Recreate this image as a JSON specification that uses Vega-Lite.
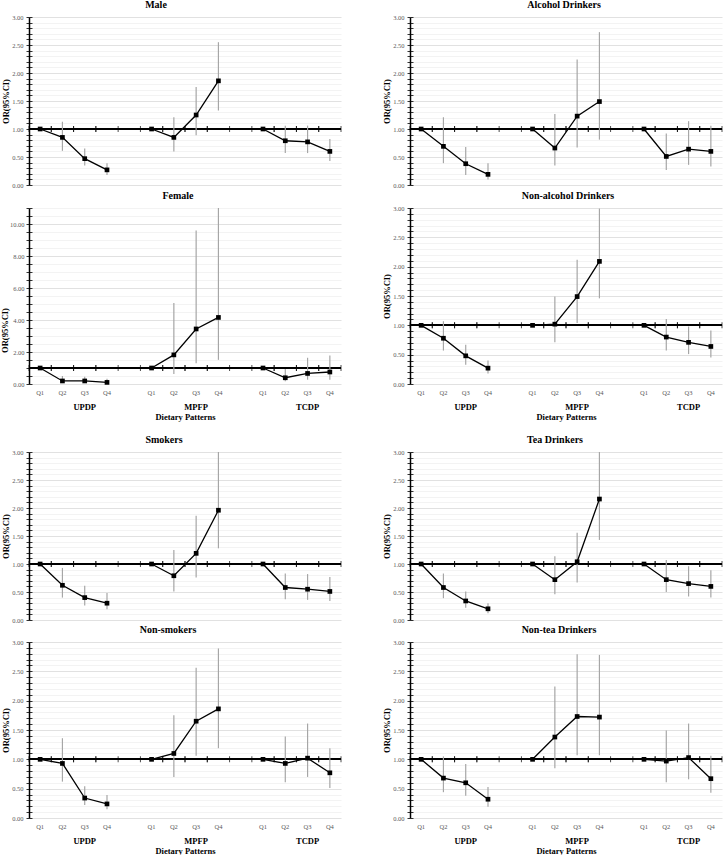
{
"$schema":"https://vega.github.io/schema/vega-lite/v6.json",
"background":"white",
"padding":{"left":0,"top":0,"right":0,"bottom":0},
"config":{"view":{"stroke":null},
 "title":{"font":"Liberation Serif","fontSize":10,"fontWeight":"bold","color":"black","offset":0,"frame":"group","anchor":"middle"},
 "axis":{"labelFont":"Liberation Serif","titleFont":"Liberation Serif","labelFontSize":6.5,"labelColor":"#595959","titleFontSize":8.5,"titleFontWeight":"bold","titleColor":"black","tickColor":"black","domainColor":"black","labelOverlap":false}},
"datasets":{"or":[
{"panel":"Male","pattern":"UPDP","slot":"UPDP Q1","or":1},
{"panel":"Male","pattern":"UPDP","slot":"UPDP Q2","or":0.85,"lo":0.61,"hi":1.13},
{"panel":"Male","pattern":"UPDP","slot":"UPDP Q3","or":0.47,"lo":0.35,"hi":0.65},
{"panel":"Male","pattern":"UPDP","slot":"UPDP Q4","or":0.27,"lo":0.18,"hi":0.39},
{"panel":"Male","pattern":"MPFP","slot":"MPFP Q1","or":1},
{"panel":"Male","pattern":"MPFP","slot":"MPFP Q2","or":0.85,"lo":0.60,"hi":1.21},
{"panel":"Male","pattern":"MPFP","slot":"MPFP Q3","or":1.25,"lo":0.89,"hi":1.75},
{"panel":"Male","pattern":"MPFP","slot":"MPFP Q4","or":1.86,"lo":1.33,"hi":2.55},
{"panel":"Male","pattern":"TCDP","slot":"TCDP Q1","or":1},
{"panel":"Male","pattern":"TCDP","slot":"TCDP Q2","or":0.79,"lo":0.57,"hi":1.06},
{"panel":"Male","pattern":"TCDP","slot":"TCDP Q3","or":0.77,"lo":0.57,"hi":1.06},
{"panel":"Male","pattern":"TCDP","slot":"TCDP Q4","or":0.60,"lo":0.43,"hi":0.82},
{"panel":"Female","pattern":"UPDP","slot":"UPDP Q1","or":1},
{"panel":"Female","pattern":"UPDP","slot":"UPDP Q2","or":0.19,"lo":0.06,"hi":0.50},
{"panel":"Female","pattern":"UPDP","slot":"UPDP Q3","or":0.19,"lo":0.07,"hi":0.45},
{"panel":"Female","pattern":"UPDP","slot":"UPDP Q4","or":0.10,"lo":0.03,"hi":0.33},
{"panel":"Female","pattern":"MPFP","slot":"MPFP Q1","or":1},
{"panel":"Female","pattern":"MPFP","slot":"MPFP Q2","or":1.82,"lo":0.62,"hi":5.07},
{"panel":"Female","pattern":"MPFP","slot":"MPFP Q3","or":3.44,"lo":1.30,"hi":9.59},
{"panel":"Female","pattern":"MPFP","slot":"MPFP Q4","or":4.16,"lo":1.51,"hi":11.0},
{"panel":"Female","pattern":"TCDP","slot":"TCDP Q1","or":1},
{"panel":"Female","pattern":"TCDP","slot":"TCDP Q2","or":0.39,"lo":0.17,"hi":0.93},
{"panel":"Female","pattern":"TCDP","slot":"TCDP Q3","or":0.66,"lo":0.27,"hi":1.64},
{"panel":"Female","pattern":"TCDP","slot":"TCDP Q4","or":0.75,"lo":0.27,"hi":1.78},
{"panel":"Alcohol Drinkers","pattern":"UPDP","slot":"UPDP Q1","or":1},
{"panel":"Alcohol Drinkers","pattern":"UPDP","slot":"UPDP Q2","or":0.69,"lo":0.39,"hi":1.21},
{"panel":"Alcohol Drinkers","pattern":"UPDP","slot":"UPDP Q3","or":0.38,"lo":0.18,"hi":0.68},
{"panel":"Alcohol Drinkers","pattern":"UPDP","slot":"UPDP Q4","or":0.19,"lo":0.10,"hi":0.39},
{"panel":"Alcohol Drinkers","pattern":"MPFP","slot":"MPFP Q1","or":1},
{"panel":"Alcohol Drinkers","pattern":"MPFP","slot":"MPFP Q2","or":0.66,"lo":0.35,"hi":1.27},
{"panel":"Alcohol Drinkers","pattern":"MPFP","slot":"MPFP Q3","or":1.23,"lo":0.67,"hi":2.24},
{"panel":"Alcohol Drinkers","pattern":"MPFP","slot":"MPFP Q4","or":1.49,"lo":0.81,"hi":2.73},
{"panel":"Alcohol Drinkers","pattern":"TCDP","slot":"TCDP Q1","or":1},
{"panel":"Alcohol Drinkers","pattern":"TCDP","slot":"TCDP Q2","or":0.51,"lo":0.27,"hi":0.92},
{"panel":"Alcohol Drinkers","pattern":"TCDP","slot":"TCDP Q3","or":0.64,"lo":0.36,"hi":1.14},
{"panel":"Alcohol Drinkers","pattern":"TCDP","slot":"TCDP Q4","or":0.60,"lo":0.33,"hi":1.06},
{"panel":"Non-alcohol Drinkers","pattern":"UPDP","slot":"UPDP Q1","or":1},
{"panel":"Non-alcohol Drinkers","pattern":"UPDP","slot":"UPDP Q2","or":0.78,"lo":0.57,"hi":1.07},
{"panel":"Non-alcohol Drinkers","pattern":"UPDP","slot":"UPDP Q3","or":0.48,"lo":0.33,"hi":0.67},
{"panel":"Non-alcohol Drinkers","pattern":"UPDP","slot":"UPDP Q4","or":0.27,"lo":0.18,"hi":0.40},
{"panel":"Non-alcohol Drinkers","pattern":"MPFP","slot":"MPFP Q1","or":1},
{"panel":"Non-alcohol Drinkers","pattern":"MPFP","slot":"MPFP Q2","or":1.02,"lo":0.71,"hi":1.49},
{"panel":"Non-alcohol Drinkers","pattern":"MPFP","slot":"MPFP Q3","or":1.49,"lo":1.04,"hi":2.12},
{"panel":"Non-alcohol Drinkers","pattern":"MPFP","slot":"MPFP Q4","or":2.09,"lo":1.46,"hi":2.99},
{"panel":"Non-alcohol Drinkers","pattern":"TCDP","slot":"TCDP Q1","or":1},
{"panel":"Non-alcohol Drinkers","pattern":"TCDP","slot":"TCDP Q2","or":0.80,"lo":0.57,"hi":1.11},
{"panel":"Non-alcohol Drinkers","pattern":"TCDP","slot":"TCDP Q3","or":0.71,"lo":0.51,"hi":0.98},
{"panel":"Non-alcohol Drinkers","pattern":"TCDP","slot":"TCDP Q4","or":0.64,"lo":0.45,"hi":0.91},
{"panel":"Smokers","pattern":"UPDP","slot":"UPDP Q1","or":1},
{"panel":"Smokers","pattern":"UPDP","slot":"UPDP Q2","or":0.62,"lo":0.40,"hi":0.93},
{"panel":"Smokers","pattern":"UPDP","slot":"UPDP Q3","or":0.40,"lo":0.26,"hi":0.61},
{"panel":"Smokers","pattern":"UPDP","slot":"UPDP Q4","or":0.30,"lo":0.19,"hi":0.48},
{"panel":"Smokers","pattern":"MPFP","slot":"MPFP Q1","or":1},
{"panel":"Smokers","pattern":"MPFP","slot":"MPFP Q2","or":0.79,"lo":0.51,"hi":1.25},
{"panel":"Smokers","pattern":"MPFP","slot":"MPFP Q3","or":1.19,"lo":0.76,"hi":1.86},
{"panel":"Smokers","pattern":"MPFP","slot":"MPFP Q4","or":1.96,"lo":1.28,"hi":3.00},
{"panel":"Smokers","pattern":"TCDP","slot":"TCDP Q1","or":1},
{"panel":"Smokers","pattern":"TCDP","slot":"TCDP Q2","or":0.58,"lo":0.37,"hi":0.83},
{"panel":"Smokers","pattern":"TCDP","slot":"TCDP Q3","or":0.55,"lo":0.36,"hi":0.82},
{"panel":"Smokers","pattern":"TCDP","slot":"TCDP Q4","or":0.51,"lo":0.34,"hi":0.77},
{"panel":"Tea Drinkers","pattern":"UPDP","slot":"UPDP Q1","or":1},
{"panel":"Tea Drinkers","pattern":"UPDP","slot":"UPDP Q2","or":0.58,"lo":0.39,"hi":0.83},
{"panel":"Tea Drinkers","pattern":"UPDP","slot":"UPDP Q3","or":0.34,"lo":0.22,"hi":0.51},
{"panel":"Tea Drinkers","pattern":"UPDP","slot":"UPDP Q4","or":0.20,"lo":0.12,"hi":0.30},
{"panel":"Tea Drinkers","pattern":"MPFP","slot":"MPFP Q1","or":1},
{"panel":"Tea Drinkers","pattern":"MPFP","slot":"MPFP Q2","or":0.72,"lo":0.46,"hi":1.14},
{"panel":"Tea Drinkers","pattern":"MPFP","slot":"MPFP Q3","or":1.04,"lo":0.67,"hi":1.56},
{"panel":"Tea Drinkers","pattern":"MPFP","slot":"MPFP Q4","or":2.16,"lo":1.43,"hi":3.00},
{"panel":"Tea Drinkers","pattern":"TCDP","slot":"TCDP Q1","or":1},
{"panel":"Tea Drinkers","pattern":"TCDP","slot":"TCDP Q2","or":0.72,"lo":0.50,"hi":1.07},
{"panel":"Tea Drinkers","pattern":"TCDP","slot":"TCDP Q3","or":0.65,"lo":0.42,"hi":0.96},
{"panel":"Tea Drinkers","pattern":"TCDP","slot":"TCDP Q4","or":0.60,"lo":0.40,"hi":0.89},
{"panel":"Non-smokers","pattern":"UPDP","slot":"UPDP Q1","or":1},
{"panel":"Non-smokers","pattern":"UPDP","slot":"UPDP Q2","or":0.93,"lo":0.62,"hi":1.36},
{"panel":"Non-smokers","pattern":"UPDP","slot":"UPDP Q3","or":0.34,"lo":0.22,"hi":0.54},
{"panel":"Non-smokers","pattern":"UPDP","slot":"UPDP Q4","or":0.24,"lo":0.15,"hi":0.39},
{"panel":"Non-smokers","pattern":"MPFP","slot":"MPFP Q1","or":1},
{"panel":"Non-smokers","pattern":"MPFP","slot":"MPFP Q2","or":1.10,"lo":0.70,"hi":1.75},
{"panel":"Non-smokers","pattern":"MPFP","slot":"MPFP Q3","or":1.65,"lo":1.06,"hi":2.56},
{"panel":"Non-smokers","pattern":"MPFP","slot":"MPFP Q4","or":1.86,"lo":1.19,"hi":2.89},
{"panel":"Non-smokers","pattern":"TCDP","slot":"TCDP Q1","or":1},
{"panel":"Non-smokers","pattern":"TCDP","slot":"TCDP Q2","or":0.93,"lo":0.61,"hi":1.39},
{"panel":"Non-smokers","pattern":"TCDP","slot":"TCDP Q3","or":1.02,"lo":0.70,"hi":1.61},
{"panel":"Non-smokers","pattern":"TCDP","slot":"TCDP Q4","or":0.77,"lo":0.51,"hi":1.19},
{"panel":"Non-tea Drinkers","pattern":"UPDP","slot":"UPDP Q1","or":1},
{"panel":"Non-tea Drinkers","pattern":"UPDP","slot":"UPDP Q2","or":0.68,"lo":0.44,"hi":1.05},
{"panel":"Non-tea Drinkers","pattern":"UPDP","slot":"UPDP Q3","or":0.60,"lo":0.38,"hi":0.92},
{"panel":"Non-tea Drinkers","pattern":"UPDP","slot":"UPDP Q4","or":0.32,"lo":0.19,"hi":0.53},
{"panel":"Non-tea Drinkers","pattern":"MPFP","slot":"MPFP Q1","or":1},
{"panel":"Non-tea Drinkers","pattern":"MPFP","slot":"MPFP Q2","or":1.38,"lo":0.85,"hi":2.24},
{"panel":"Non-tea Drinkers","pattern":"MPFP","slot":"MPFP Q3","or":1.73,"lo":1.07,"hi":2.79},
{"panel":"Non-tea Drinkers","pattern":"MPFP","slot":"MPFP Q4","or":1.72,"lo":1.07,"hi":2.78},
{"panel":"Non-tea Drinkers","pattern":"TCDP","slot":"TCDP Q1","or":1},
{"panel":"Non-tea Drinkers","pattern":"TCDP","slot":"TCDP Q2","or":0.97,"lo":0.61,"hi":1.49},
{"panel":"Non-tea Drinkers","pattern":"TCDP","slot":"TCDP Q3","or":1.03,"lo":0.66,"hi":1.61},
{"panel":"Non-tea Drinkers","pattern":"TCDP","slot":"TCDP Q4","or":0.67,"lo":0.43,"hi":1.06}
]},
"spacing":40,
"hconcat":[
{"spacing":14,"vconcat":[
 {"spacing":2,"vconcat":[
  {"width":312,"height":168,"title":{"text":"Male","dx":-29},"data":{"name":"or"},"transform":[{"filter":"datum.panel === 'Male'"}],
   "resolve":{"axis":{"x":"independent","y":"independent"}},
   "layer":[
    {"mark":{"type":"rule","color":"black","strokeWidth":1.5},"encoding":{"y":{"datum":1,"type":"quantitative","scale":{"domain":[0,3],"nice":false},"axis":null}}},
    {"mark":{"type":"tick","orient":"vertical","color":"black","size":6,"thickness":1},"encoding":{"x":{"field":"slot","type":"ordinal","bandPosition":0,"scale":{"type":"band","domain":["UPDP Q1","UPDP Q2","UPDP Q3","UPDP Q4","gap1","MPFP Q1","MPFP Q2","MPFP Q3","MPFP Q4","gap2","TCDP Q1","TCDP Q2","TCDP Q3","TCDP Q4"],"paddingInner":0,"paddingOuter":0},"axis":null},"y":{"datum":1,"type":"quantitative","scale":{"domain":[0,3],"nice":false},"axis":null}}},
    {"mark":{"type":"tick","orient":"vertical","color":"black","size":6,"thickness":1},"encoding":{"x":{"field":"slot","type":"ordinal","bandPosition":1,"scale":{"type":"band","domain":["UPDP Q1","UPDP Q2","UPDP Q3","UPDP Q4","gap1","MPFP Q1","MPFP Q2","MPFP Q3","MPFP Q4","gap2","TCDP Q1","TCDP Q2","TCDP Q3","TCDP Q4"],"paddingInner":0,"paddingOuter":0},"axis":null},"y":{"datum":1,"type":"quantitative","scale":{"domain":[0,3],"nice":false},"axis":null}}},
    {"mark":{"type":"rule","color":"#a6a6a6","strokeWidth":1.2},"encoding":{"x":{"field":"slot","type":"ordinal","scale":{"type":"band","domain":["UPDP Q1","UPDP Q2","UPDP Q3","UPDP Q4","gap1","MPFP Q1","MPFP Q2","MPFP Q3","MPFP Q4","gap2","TCDP Q1","TCDP Q2","TCDP Q3","TCDP Q4"],"paddingInner":0,"paddingOuter":0},"axis":null},"y":{"field":"lo","type":"quantitative","scale":{"domain":[0,3],"nice":false},"axis":{"orient":"left","values":[0,0.1,0.2,0.3,0.4,0.5,0.6,0.7,0.8,0.9,1,1.1,1.2,1.3,1.4,1.5,1.6,1.7,1.8,1.9,2,2.1,2.2,2.3,2.4,2.5,2.6,2.7,2.8,2.9,3],"labels":false,"domain":false,"grid":false,"tickSize":3,"tickWidth":0.8,"offset":-3,"title":null}},"y2":{"field":"hi"}}},
    {"mark":{"type":"line","color":"black","strokeWidth":1.3},"encoding":{"x":{"field":"slot","type":"ordinal","scale":{"type":"band","domain":["UPDP Q1","UPDP Q2","UPDP Q3","UPDP Q4","gap1","MPFP Q1","MPFP Q2","MPFP Q3","MPFP Q4","gap2","TCDP Q1","TCDP Q2","TCDP Q3","TCDP Q4"],"paddingInner":0,"paddingOuter":0},"axis":null},"y":{"field":"or","type":"quantitative","scale":{"domain":[0,3],"nice":false},"axis":null},"detail":{"field":"pattern"}}},
    {"mark":{"type":"point","shape":"square","filled":true,"color":"black","size":22,"opacity":1},"encoding":{"x":{"field":"slot","type":"ordinal","scale":{"type":"band","domain":["UPDP Q1","UPDP Q2","UPDP Q3","UPDP Q4","gap1","MPFP Q1","MPFP Q2","MPFP Q3","MPFP Q4","gap2","TCDP Q1","TCDP Q2","TCDP Q3","TCDP Q4"],"paddingInner":0,"paddingOuter":0},"axis":null},"y":{"field":"or","type":"quantitative","scale":{"domain":[0,3],"nice":false},"axis":{"orient":"left","values":[0,0.1,0.2,0.3,0.4,0.5,0.6,0.7,0.8,0.9,1,1.1,1.2,1.3,1.4,1.5,1.6,1.7,1.8,1.9,2,2.1,2.2,2.3,2.4,2.5,2.6,2.7,2.8,2.9,3],"labelExpr":"abs(datum.value*2-round(datum.value*2))<0.001 ? format(datum.value,'.2f') : ''","grid":true,"gridColor":{"condition":{"test":"abs(datum.value*2-round(datum.value*2))<0.001","value":"#d9d9d9"},"value":"#f0f0f0"},"gridWidth":0.8,"domainWidth":1.5,"tickSize":3,"tickWidth":0.8,"labelPadding":3,"title":"OR(95%CI)","titlePadding":1}}}}
   ]},
  {"width":312,"height":176,"title":{"text":"Female","dx":-7},"data":{"name":"or"},"transform":[{"filter":"datum.panel === 'Female'"}],
   "resolve":{"axis":{"x":"independent","y":"independent"}},
   "layer":[
    {"mark":{"type":"rule","color":"black","strokeWidth":1.5},"encoding":{"y":{"datum":1,"type":"quantitative","scale":{"domain":[0,11],"nice":false},"axis":null}}},
    {"mark":{"type":"tick","orient":"vertical","color":"black","size":6,"thickness":1},"encoding":{"x":{"field":"slot","type":"ordinal","bandPosition":0,"scale":{"type":"band","domain":["UPDP Q1","UPDP Q2","UPDP Q3","UPDP Q4","gap1","MPFP Q1","MPFP Q2","MPFP Q3","MPFP Q4","gap2","TCDP Q1","TCDP Q2","TCDP Q3","TCDP Q4"],"paddingInner":0,"paddingOuter":0},"axis":null},"y":{"datum":1,"type":"quantitative","scale":{"domain":[0,11],"nice":false},"axis":null}}},
    {"mark":{"type":"tick","orient":"vertical","color":"black","size":6,"thickness":1},"encoding":{"x":{"field":"slot","type":"ordinal","bandPosition":1,"scale":{"type":"band","domain":["UPDP Q1","UPDP Q2","UPDP Q3","UPDP Q4","gap1","MPFP Q1","MPFP Q2","MPFP Q3","MPFP Q4","gap2","TCDP Q1","TCDP Q2","TCDP Q3","TCDP Q4"],"paddingInner":0,"paddingOuter":0},"axis":null},"y":{"datum":1,"type":"quantitative","scale":{"domain":[0,11],"nice":false},"axis":null}}},
    {"mark":{"type":"rule","color":"#a6a6a6","strokeWidth":1.2},"encoding":{"x":{"field":"slot","type":"ordinal","scale":{"type":"band","domain":["UPDP Q1","UPDP Q2","UPDP Q3","UPDP Q4","gap1","MPFP Q1","MPFP Q2","MPFP Q3","MPFP Q4","gap2","TCDP Q1","TCDP Q2","TCDP Q3","TCDP Q4"],"paddingInner":0,"paddingOuter":0},"axis":{"orient":"bottom","values":["UPDP Q3","MPFP Q3","TCDP Q3"],"bandPosition":0,"labelExpr":"slice(datum.value,0,4)","ticks":false,"domain":false,"grid":false,"labelAngle":0,"labelPadding":18,"labelFontSize":8.5,"labelFontWeight":"bold","labelColor":"black","title":"Dietary Patterns","titlePadding":2}},"y":{"field":"lo","type":"quantitative","scale":{"domain":[0,11],"nice":false},"axis":{"orient":"left","values":[0,0.5,1,1.5,2,2.5,3,3.5,4,4.5,5,5.5,6,6.5,7,7.5,8,8.5,9,9.5,10,10.5,11],"labels":false,"domain":false,"grid":false,"tickSize":3,"tickWidth":0.8,"offset":-3,"title":null}},"y2":{"field":"hi"}}},
    {"mark":{"type":"line","color":"black","strokeWidth":1.3},"encoding":{"x":{"field":"slot","type":"ordinal","scale":{"type":"band","domain":["UPDP Q1","UPDP Q2","UPDP Q3","UPDP Q4","gap1","MPFP Q1","MPFP Q2","MPFP Q3","MPFP Q4","gap2","TCDP Q1","TCDP Q2","TCDP Q3","TCDP Q4"],"paddingInner":0,"paddingOuter":0},"axis":null},"y":{"field":"or","type":"quantitative","scale":{"domain":[0,11],"nice":false},"axis":null},"detail":{"field":"pattern"}}},
    {"mark":{"type":"point","shape":"square","filled":true,"color":"black","size":22,"opacity":1},"encoding":{"x":{"field":"slot","type":"ordinal","scale":{"type":"band","domain":["UPDP Q1","UPDP Q2","UPDP Q3","UPDP Q4","gap1","MPFP Q1","MPFP Q2","MPFP Q3","MPFP Q4","gap2","TCDP Q1","TCDP Q2","TCDP Q3","TCDP Q4"],"paddingInner":0,"paddingOuter":0},"axis":{"orient":"bottom","labelExpr":"indexof(datum.value,'gap') >= 0 ? '' : slice(datum.value,-2)","ticks":false,"domain":false,"grid":false,"labelAngle":0,"labelPadding":5,"title":null}},"y":{"field":"or","type":"quantitative","scale":{"domain":[0,11],"nice":false},"axis":{"orient":"left","values":[0,0.5,1,1.5,2,2.5,3,3.5,4,4.5,5,5.5,6,6.5,7,7.5,8,8.5,9,9.5,10,10.5,11],"labelExpr":"datum.value % 2 === 0 ? format(datum.value,'.2f') : ''","grid":true,"gridColor":{"condition":{"test":"datum.value % 2 === 0","value":"#d9d9d9"},"value":"#f0f0f0"},"gridWidth":0.8,"domainWidth":1.5,"tickSize":3,"tickWidth":0.8,"labelPadding":2,"title":"OR(95%CI)","titlePadding":0,"titleY":122}}}}
   ]}
 ]},
 {"spacing":1,"vconcat":[
  {"width":312,"height":168,"title":{"text":"Smokers","dx":-21},"data":{"name":"or"},"transform":[{"filter":"datum.panel === 'Smokers'"}],
   "resolve":{"axis":{"x":"independent","y":"independent"}},
   "layer":[
    {"mark":{"type":"rule","color":"black","strokeWidth":1.5},"encoding":{"y":{"datum":1,"type":"quantitative","scale":{"domain":[0,3],"nice":false},"axis":null}}},
    {"mark":{"type":"tick","orient":"vertical","color":"black","size":6,"thickness":1},"encoding":{"x":{"field":"slot","type":"ordinal","bandPosition":0,"scale":{"type":"band","domain":["UPDP Q1","UPDP Q2","UPDP Q3","UPDP Q4","gap1","MPFP Q1","MPFP Q2","MPFP Q3","MPFP Q4","gap2","TCDP Q1","TCDP Q2","TCDP Q3","TCDP Q4"],"paddingInner":0,"paddingOuter":0},"axis":null},"y":{"datum":1,"type":"quantitative","scale":{"domain":[0,3],"nice":false},"axis":null}}},
    {"mark":{"type":"tick","orient":"vertical","color":"black","size":6,"thickness":1},"encoding":{"x":{"field":"slot","type":"ordinal","bandPosition":1,"scale":{"type":"band","domain":["UPDP Q1","UPDP Q2","UPDP Q3","UPDP Q4","gap1","MPFP Q1","MPFP Q2","MPFP Q3","MPFP Q4","gap2","TCDP Q1","TCDP Q2","TCDP Q3","TCDP Q4"],"paddingInner":0,"paddingOuter":0},"axis":null},"y":{"datum":1,"type":"quantitative","scale":{"domain":[0,3],"nice":false},"axis":null}}},
    {"mark":{"type":"rule","color":"#a6a6a6","strokeWidth":1.2},"encoding":{"x":{"field":"slot","type":"ordinal","scale":{"type":"band","domain":["UPDP Q1","UPDP Q2","UPDP Q3","UPDP Q4","gap1","MPFP Q1","MPFP Q2","MPFP Q3","MPFP Q4","gap2","TCDP Q1","TCDP Q2","TCDP Q3","TCDP Q4"],"paddingInner":0,"paddingOuter":0},"axis":null},"y":{"field":"lo","type":"quantitative","scale":{"domain":[0,3],"nice":false},"axis":{"orient":"left","values":[0,0.1,0.2,0.3,0.4,0.5,0.6,0.7,0.8,0.9,1,1.1,1.2,1.3,1.4,1.5,1.6,1.7,1.8,1.9,2,2.1,2.2,2.3,2.4,2.5,2.6,2.7,2.8,2.9,3],"labels":false,"domain":false,"grid":false,"tickSize":3,"tickWidth":0.8,"offset":-3,"title":null}},"y2":{"field":"hi"}}},
    {"mark":{"type":"line","color":"black","strokeWidth":1.3},"encoding":{"x":{"field":"slot","type":"ordinal","scale":{"type":"band","domain":["UPDP Q1","UPDP Q2","UPDP Q3","UPDP Q4","gap1","MPFP Q1","MPFP Q2","MPFP Q3","MPFP Q4","gap2","TCDP Q1","TCDP Q2","TCDP Q3","TCDP Q4"],"paddingInner":0,"paddingOuter":0},"axis":null},"y":{"field":"or","type":"quantitative","scale":{"domain":[0,3],"nice":false},"axis":null},"detail":{"field":"pattern"}}},
    {"mark":{"type":"point","shape":"square","filled":true,"color":"black","size":22,"opacity":1},"encoding":{"x":{"field":"slot","type":"ordinal","scale":{"type":"band","domain":["UPDP Q1","UPDP Q2","UPDP Q3","UPDP Q4","gap1","MPFP Q1","MPFP Q2","MPFP Q3","MPFP Q4","gap2","TCDP Q1","TCDP Q2","TCDP Q3","TCDP Q4"],"paddingInner":0,"paddingOuter":0},"axis":null},"y":{"field":"or","type":"quantitative","scale":{"domain":[0,3],"nice":false},"axis":{"orient":"left","values":[0,0.1,0.2,0.3,0.4,0.5,0.6,0.7,0.8,0.9,1,1.1,1.2,1.3,1.4,1.5,1.6,1.7,1.8,1.9,2,2.1,2.2,2.3,2.4,2.5,2.6,2.7,2.8,2.9,3],"labelExpr":"abs(datum.value*2-round(datum.value*2))<0.001 ? format(datum.value,'.2f') : ''","grid":true,"gridColor":{"condition":{"test":"abs(datum.value*2-round(datum.value*2))<0.001","value":"#d9d9d9"},"value":"#f0f0f0"},"gridWidth":0.8,"domainWidth":1.5,"tickSize":3,"tickWidth":0.8,"labelPadding":3,"title":"OR(95%CI)","titlePadding":1}}}}
   ]},
  {"width":312,"height":176,"title":{"text":"Non-smokers","dx":-17},"data":{"name":"or"},"transform":[{"filter":"datum.panel === 'Non-smokers'"}],
   "resolve":{"axis":{"x":"independent","y":"independent"}},
   "layer":[
    {"mark":{"type":"rule","color":"black","strokeWidth":1.5},"encoding":{"y":{"datum":1,"type":"quantitative","scale":{"domain":[0,3],"nice":false},"axis":null}}},
    {"mark":{"type":"tick","orient":"vertical","color":"black","size":6,"thickness":1},"encoding":{"x":{"field":"slot","type":"ordinal","bandPosition":0,"scale":{"type":"band","domain":["UPDP Q1","UPDP Q2","UPDP Q3","UPDP Q4","gap1","MPFP Q1","MPFP Q2","MPFP Q3","MPFP Q4","gap2","TCDP Q1","TCDP Q2","TCDP Q3","TCDP Q4"],"paddingInner":0,"paddingOuter":0},"axis":null},"y":{"datum":1,"type":"quantitative","scale":{"domain":[0,3],"nice":false},"axis":null}}},
    {"mark":{"type":"tick","orient":"vertical","color":"black","size":6,"thickness":1},"encoding":{"x":{"field":"slot","type":"ordinal","bandPosition":1,"scale":{"type":"band","domain":["UPDP Q1","UPDP Q2","UPDP Q3","UPDP Q4","gap1","MPFP Q1","MPFP Q2","MPFP Q3","MPFP Q4","gap2","TCDP Q1","TCDP Q2","TCDP Q3","TCDP Q4"],"paddingInner":0,"paddingOuter":0},"axis":null},"y":{"datum":1,"type":"quantitative","scale":{"domain":[0,3],"nice":false},"axis":null}}},
    {"mark":{"type":"rule","color":"#a6a6a6","strokeWidth":1.2},"encoding":{"x":{"field":"slot","type":"ordinal","scale":{"type":"band","domain":["UPDP Q1","UPDP Q2","UPDP Q3","UPDP Q4","gap1","MPFP Q1","MPFP Q2","MPFP Q3","MPFP Q4","gap2","TCDP Q1","TCDP Q2","TCDP Q3","TCDP Q4"],"paddingInner":0,"paddingOuter":0},"axis":{"orient":"bottom","values":["UPDP Q3","MPFP Q3","TCDP Q3"],"bandPosition":0,"labelExpr":"slice(datum.value,0,4)","ticks":false,"domain":false,"grid":false,"labelAngle":0,"labelPadding":18,"labelFontSize":8.5,"labelFontWeight":"bold","labelColor":"black","title":"Dietary Patterns","titlePadding":2}},"y":{"field":"lo","type":"quantitative","scale":{"domain":[0,3],"nice":false},"axis":{"orient":"left","values":[0,0.1,0.2,0.3,0.4,0.5,0.6,0.7,0.8,0.9,1,1.1,1.2,1.3,1.4,1.5,1.6,1.7,1.8,1.9,2,2.1,2.2,2.3,2.4,2.5,2.6,2.7,2.8,2.9,3],"labels":false,"domain":false,"grid":false,"tickSize":3,"tickWidth":0.8,"offset":-3,"title":null}},"y2":{"field":"hi"}}},
    {"mark":{"type":"line","color":"black","strokeWidth":1.3},"encoding":{"x":{"field":"slot","type":"ordinal","scale":{"type":"band","domain":["UPDP Q1","UPDP Q2","UPDP Q3","UPDP Q4","gap1","MPFP Q1","MPFP Q2","MPFP Q3","MPFP Q4","gap2","TCDP Q1","TCDP Q2","TCDP Q3","TCDP Q4"],"paddingInner":0,"paddingOuter":0},"axis":null},"y":{"field":"or","type":"quantitative","scale":{"domain":[0,3],"nice":false},"axis":null},"detail":{"field":"pattern"}}},
    {"mark":{"type":"point","shape":"square","filled":true,"color":"black","size":22,"opacity":1},"encoding":{"x":{"field":"slot","type":"ordinal","scale":{"type":"band","domain":["UPDP Q1","UPDP Q2","UPDP Q3","UPDP Q4","gap1","MPFP Q1","MPFP Q2","MPFP Q3","MPFP Q4","gap2","TCDP Q1","TCDP Q2","TCDP Q3","TCDP Q4"],"paddingInner":0,"paddingOuter":0},"axis":{"orient":"bottom","labelExpr":"indexof(datum.value,'gap') >= 0 ? '' : slice(datum.value,-2)","ticks":false,"domain":false,"grid":false,"labelAngle":0,"labelPadding":5,"title":null}},"y":{"field":"or","type":"quantitative","scale":{"domain":[0,3],"nice":false},"axis":{"orient":"left","values":[0,0.1,0.2,0.3,0.4,0.5,0.6,0.7,0.8,0.9,1,1.1,1.2,1.3,1.4,1.5,1.6,1.7,1.8,1.9,2,2.1,2.2,2.3,2.4,2.5,2.6,2.7,2.8,2.9,3],"labelExpr":"abs(datum.value*2-round(datum.value*2))<0.001 ? format(datum.value,'.2f') : ''","grid":true,"gridColor":{"condition":{"test":"abs(datum.value*2-round(datum.value*2))<0.001","value":"#d9d9d9"},"value":"#f0f0f0"},"gridWidth":0.8,"domainWidth":1.5,"tickSize":3,"tickWidth":0.8,"labelPadding":3,"title":"OR(95%CI)","titlePadding":1}}}}
   ]}
 ]}
]},
{"spacing":14,"vconcat":[
 {"spacing":2,"vconcat":[
  {"width":312,"height":168,"title":{"text":"Alcohol Drinkers","dx":-2},"data":{"name":"or"},"transform":[{"filter":"datum.panel === 'Alcohol Drinkers'"}],
   "resolve":{"axis":{"x":"independent","y":"independent"}},
   "layer":[
    {"mark":{"type":"rule","color":"black","strokeWidth":1.5},"encoding":{"y":{"datum":1,"type":"quantitative","scale":{"domain":[0,3],"nice":false},"axis":null}}},
    {"mark":{"type":"tick","orient":"vertical","color":"black","size":6,"thickness":1},"encoding":{"x":{"field":"slot","type":"ordinal","bandPosition":0,"scale":{"type":"band","domain":["UPDP Q1","UPDP Q2","UPDP Q3","UPDP Q4","gap1","MPFP Q1","MPFP Q2","MPFP Q3","MPFP Q4","gap2","TCDP Q1","TCDP Q2","TCDP Q3","TCDP Q4"],"paddingInner":0,"paddingOuter":0},"axis":null},"y":{"datum":1,"type":"quantitative","scale":{"domain":[0,3],"nice":false},"axis":null}}},
    {"mark":{"type":"tick","orient":"vertical","color":"black","size":6,"thickness":1},"encoding":{"x":{"field":"slot","type":"ordinal","bandPosition":1,"scale":{"type":"band","domain":["UPDP Q1","UPDP Q2","UPDP Q3","UPDP Q4","gap1","MPFP Q1","MPFP Q2","MPFP Q3","MPFP Q4","gap2","TCDP Q1","TCDP Q2","TCDP Q3","TCDP Q4"],"paddingInner":0,"paddingOuter":0},"axis":null},"y":{"datum":1,"type":"quantitative","scale":{"domain":[0,3],"nice":false},"axis":null}}},
    {"mark":{"type":"rule","color":"#a6a6a6","strokeWidth":1.2},"encoding":{"x":{"field":"slot","type":"ordinal","scale":{"type":"band","domain":["UPDP Q1","UPDP Q2","UPDP Q3","UPDP Q4","gap1","MPFP Q1","MPFP Q2","MPFP Q3","MPFP Q4","gap2","TCDP Q1","TCDP Q2","TCDP Q3","TCDP Q4"],"paddingInner":0,"paddingOuter":0},"axis":null},"y":{"field":"lo","type":"quantitative","scale":{"domain":[0,3],"nice":false},"axis":{"orient":"left","values":[0,0.1,0.2,0.3,0.4,0.5,0.6,0.7,0.8,0.9,1,1.1,1.2,1.3,1.4,1.5,1.6,1.7,1.8,1.9,2,2.1,2.2,2.3,2.4,2.5,2.6,2.7,2.8,2.9,3],"labels":false,"domain":false,"grid":false,"tickSize":3,"tickWidth":0.8,"offset":-3,"title":null}},"y2":{"field":"hi"}}},
    {"mark":{"type":"line","color":"black","strokeWidth":1.3},"encoding":{"x":{"field":"slot","type":"ordinal","scale":{"type":"band","domain":["UPDP Q1","UPDP Q2","UPDP Q3","UPDP Q4","gap1","MPFP Q1","MPFP Q2","MPFP Q3","MPFP Q4","gap2","TCDP Q1","TCDP Q2","TCDP Q3","TCDP Q4"],"paddingInner":0,"paddingOuter":0},"axis":null},"y":{"field":"or","type":"quantitative","scale":{"domain":[0,3],"nice":false},"axis":null},"detail":{"field":"pattern"}}},
    {"mark":{"type":"point","shape":"square","filled":true,"color":"black","size":22,"opacity":1},"encoding":{"x":{"field":"slot","type":"ordinal","scale":{"type":"band","domain":["UPDP Q1","UPDP Q2","UPDP Q3","UPDP Q4","gap1","MPFP Q1","MPFP Q2","MPFP Q3","MPFP Q4","gap2","TCDP Q1","TCDP Q2","TCDP Q3","TCDP Q4"],"paddingInner":0,"paddingOuter":0},"axis":null},"y":{"field":"or","type":"quantitative","scale":{"domain":[0,3],"nice":false},"axis":{"orient":"left","values":[0,0.1,0.2,0.3,0.4,0.5,0.6,0.7,0.8,0.9,1,1.1,1.2,1.3,1.4,1.5,1.6,1.7,1.8,1.9,2,2.1,2.2,2.3,2.4,2.5,2.6,2.7,2.8,2.9,3],"labelExpr":"abs(datum.value*2-round(datum.value*2))<0.001 ? format(datum.value,'.2f') : ''","grid":true,"gridColor":{"condition":{"test":"abs(datum.value*2-round(datum.value*2))<0.001","value":"#d9d9d9"},"value":"#f0f0f0"},"gridWidth":0.8,"domainWidth":1.5,"tickSize":3,"tickWidth":0.8,"labelPadding":3,"title":"OR(95%CI)","titlePadding":1}}}}
   ]},
  {"width":312,"height":176,"title":{"text":"Non-alcohol Drinkers","dx":2},"data":{"name":"or"},"transform":[{"filter":"datum.panel === 'Non-alcohol Drinkers'"}],
   "resolve":{"axis":{"x":"independent","y":"independent"}},
   "layer":[
    {"mark":{"type":"rule","color":"black","strokeWidth":1.5},"encoding":{"y":{"datum":1,"type":"quantitative","scale":{"domain":[0,3],"nice":false},"axis":null}}},
    {"mark":{"type":"tick","orient":"vertical","color":"black","size":6,"thickness":1},"encoding":{"x":{"field":"slot","type":"ordinal","bandPosition":0,"scale":{"type":"band","domain":["UPDP Q1","UPDP Q2","UPDP Q3","UPDP Q4","gap1","MPFP Q1","MPFP Q2","MPFP Q3","MPFP Q4","gap2","TCDP Q1","TCDP Q2","TCDP Q3","TCDP Q4"],"paddingInner":0,"paddingOuter":0},"axis":null},"y":{"datum":1,"type":"quantitative","scale":{"domain":[0,3],"nice":false},"axis":null}}},
    {"mark":{"type":"tick","orient":"vertical","color":"black","size":6,"thickness":1},"encoding":{"x":{"field":"slot","type":"ordinal","bandPosition":1,"scale":{"type":"band","domain":["UPDP Q1","UPDP Q2","UPDP Q3","UPDP Q4","gap1","MPFP Q1","MPFP Q2","MPFP Q3","MPFP Q4","gap2","TCDP Q1","TCDP Q2","TCDP Q3","TCDP Q4"],"paddingInner":0,"paddingOuter":0},"axis":null},"y":{"datum":1,"type":"quantitative","scale":{"domain":[0,3],"nice":false},"axis":null}}},
    {"mark":{"type":"rule","color":"#a6a6a6","strokeWidth":1.2},"encoding":{"x":{"field":"slot","type":"ordinal","scale":{"type":"band","domain":["UPDP Q1","UPDP Q2","UPDP Q3","UPDP Q4","gap1","MPFP Q1","MPFP Q2","MPFP Q3","MPFP Q4","gap2","TCDP Q1","TCDP Q2","TCDP Q3","TCDP Q4"],"paddingInner":0,"paddingOuter":0},"axis":{"orient":"bottom","values":["UPDP Q3","MPFP Q3","TCDP Q3"],"bandPosition":0,"labelExpr":"slice(datum.value,0,4)","ticks":false,"domain":false,"grid":false,"labelAngle":0,"labelPadding":18,"labelFontSize":8.5,"labelFontWeight":"bold","labelColor":"black","title":"Dietary Patterns","titlePadding":2}},"y":{"field":"lo","type":"quantitative","scale":{"domain":[0,3],"nice":false},"axis":{"orient":"left","values":[0,0.1,0.2,0.3,0.4,0.5,0.6,0.7,0.8,0.9,1,1.1,1.2,1.3,1.4,1.5,1.6,1.7,1.8,1.9,2,2.1,2.2,2.3,2.4,2.5,2.6,2.7,2.8,2.9,3],"labels":false,"domain":false,"grid":false,"tickSize":3,"tickWidth":0.8,"offset":-3,"title":null}},"y2":{"field":"hi"}}},
    {"mark":{"type":"line","color":"black","strokeWidth":1.3},"encoding":{"x":{"field":"slot","type":"ordinal","scale":{"type":"band","domain":["UPDP Q1","UPDP Q2","UPDP Q3","UPDP Q4","gap1","MPFP Q1","MPFP Q2","MPFP Q3","MPFP Q4","gap2","TCDP Q1","TCDP Q2","TCDP Q3","TCDP Q4"],"paddingInner":0,"paddingOuter":0},"axis":null},"y":{"field":"or","type":"quantitative","scale":{"domain":[0,3],"nice":false},"axis":null},"detail":{"field":"pattern"}}},
    {"mark":{"type":"point","shape":"square","filled":true,"color":"black","size":22,"opacity":1},"encoding":{"x":{"field":"slot","type":"ordinal","scale":{"type":"band","domain":["UPDP Q1","UPDP Q2","UPDP Q3","UPDP Q4","gap1","MPFP Q1","MPFP Q2","MPFP Q3","MPFP Q4","gap2","TCDP Q1","TCDP Q2","TCDP Q3","TCDP Q4"],"paddingInner":0,"paddingOuter":0},"axis":{"orient":"bottom","labelExpr":"indexof(datum.value,'gap') >= 0 ? '' : slice(datum.value,-2)","ticks":false,"domain":false,"grid":false,"labelAngle":0,"labelPadding":5,"title":null}},"y":{"field":"or","type":"quantitative","scale":{"domain":[0,3],"nice":false},"axis":{"orient":"left","values":[0,0.1,0.2,0.3,0.4,0.5,0.6,0.7,0.8,0.9,1,1.1,1.2,1.3,1.4,1.5,1.6,1.7,1.8,1.9,2,2.1,2.2,2.3,2.4,2.5,2.6,2.7,2.8,2.9,3],"labelExpr":"abs(datum.value*2-round(datum.value*2))<0.001 ? format(datum.value,'.2f') : ''","grid":true,"gridColor":{"condition":{"test":"abs(datum.value*2-round(datum.value*2))<0.001","value":"#d9d9d9"},"value":"#f0f0f0"},"gridWidth":0.8,"domainWidth":1.5,"tickSize":3,"tickWidth":0.8,"labelPadding":3,"title":"OR(95%CI)","titlePadding":1}}}}
   ]}
 ]},
 {"spacing":1,"vconcat":[
  {"width":312,"height":168,"title":{"text":"Tea Drinkers","dx":-11},"data":{"name":"or"},"transform":[{"filter":"datum.panel === 'Tea Drinkers'"}],
   "resolve":{"axis":{"x":"independent","y":"independent"}},
   "layer":[
    {"mark":{"type":"rule","color":"black","strokeWidth":1.5},"encoding":{"y":{"datum":1,"type":"quantitative","scale":{"domain":[0,3],"nice":false},"axis":null}}},
    {"mark":{"type":"tick","orient":"vertical","color":"black","size":6,"thickness":1},"encoding":{"x":{"field":"slot","type":"ordinal","bandPosition":0,"scale":{"type":"band","domain":["UPDP Q1","UPDP Q2","UPDP Q3","UPDP Q4","gap1","MPFP Q1","MPFP Q2","MPFP Q3","MPFP Q4","gap2","TCDP Q1","TCDP Q2","TCDP Q3","TCDP Q4"],"paddingInner":0,"paddingOuter":0},"axis":null},"y":{"datum":1,"type":"quantitative","scale":{"domain":[0,3],"nice":false},"axis":null}}},
    {"mark":{"type":"tick","orient":"vertical","color":"black","size":6,"thickness":1},"encoding":{"x":{"field":"slot","type":"ordinal","bandPosition":1,"scale":{"type":"band","domain":["UPDP Q1","UPDP Q2","UPDP Q3","UPDP Q4","gap1","MPFP Q1","MPFP Q2","MPFP Q3","MPFP Q4","gap2","TCDP Q1","TCDP Q2","TCDP Q3","TCDP Q4"],"paddingInner":0,"paddingOuter":0},"axis":null},"y":{"datum":1,"type":"quantitative","scale":{"domain":[0,3],"nice":false},"axis":null}}},
    {"mark":{"type":"rule","color":"#a6a6a6","strokeWidth":1.2},"encoding":{"x":{"field":"slot","type":"ordinal","scale":{"type":"band","domain":["UPDP Q1","UPDP Q2","UPDP Q3","UPDP Q4","gap1","MPFP Q1","MPFP Q2","MPFP Q3","MPFP Q4","gap2","TCDP Q1","TCDP Q2","TCDP Q3","TCDP Q4"],"paddingInner":0,"paddingOuter":0},"axis":null},"y":{"field":"lo","type":"quantitative","scale":{"domain":[0,3],"nice":false},"axis":{"orient":"left","values":[0,0.1,0.2,0.3,0.4,0.5,0.6,0.7,0.8,0.9,1,1.1,1.2,1.3,1.4,1.5,1.6,1.7,1.8,1.9,2,2.1,2.2,2.3,2.4,2.5,2.6,2.7,2.8,2.9,3],"labels":false,"domain":false,"grid":false,"tickSize":3,"tickWidth":0.8,"offset":-3,"title":null}},"y2":{"field":"hi"}}},
    {"mark":{"type":"line","color":"black","strokeWidth":1.3},"encoding":{"x":{"field":"slot","type":"ordinal","scale":{"type":"band","domain":["UPDP Q1","UPDP Q2","UPDP Q3","UPDP Q4","gap1","MPFP Q1","MPFP Q2","MPFP Q3","MPFP Q4","gap2","TCDP Q1","TCDP Q2","TCDP Q3","TCDP Q4"],"paddingInner":0,"paddingOuter":0},"axis":null},"y":{"field":"or","type":"quantitative","scale":{"domain":[0,3],"nice":false},"axis":null},"detail":{"field":"pattern"}}},
    {"mark":{"type":"point","shape":"square","filled":true,"color":"black","size":22,"opacity":1},"encoding":{"x":{"field":"slot","type":"ordinal","scale":{"type":"band","domain":["UPDP Q1","UPDP Q2","UPDP Q3","UPDP Q4","gap1","MPFP Q1","MPFP Q2","MPFP Q3","MPFP Q4","gap2","TCDP Q1","TCDP Q2","TCDP Q3","TCDP Q4"],"paddingInner":0,"paddingOuter":0},"axis":null},"y":{"field":"or","type":"quantitative","scale":{"domain":[0,3],"nice":false},"axis":{"orient":"left","values":[0,0.1,0.2,0.3,0.4,0.5,0.6,0.7,0.8,0.9,1,1.1,1.2,1.3,1.4,1.5,1.6,1.7,1.8,1.9,2,2.1,2.2,2.3,2.4,2.5,2.6,2.7,2.8,2.9,3],"labelExpr":"abs(datum.value*2-round(datum.value*2))<0.001 ? format(datum.value,'.2f') : ''","grid":true,"gridColor":{"condition":{"test":"abs(datum.value*2-round(datum.value*2))<0.001","value":"#d9d9d9"},"value":"#f0f0f0"},"gridWidth":0.8,"domainWidth":1.5,"tickSize":3,"tickWidth":0.8,"labelPadding":3,"title":"OR(95%CI)","titlePadding":1}}}}
   ]},
  {"width":312,"height":176,"title":{"text":"Non-tea Drinkers","dx":-7},"data":{"name":"or"},"transform":[{"filter":"datum.panel === 'Non-tea Drinkers'"}],
   "resolve":{"axis":{"x":"independent","y":"independent"}},
   "layer":[
    {"mark":{"type":"rule","color":"black","strokeWidth":1.5},"encoding":{"y":{"datum":1,"type":"quantitative","scale":{"domain":[0,3],"nice":false},"axis":null}}},
    {"mark":{"type":"tick","orient":"vertical","color":"black","size":6,"thickness":1},"encoding":{"x":{"field":"slot","type":"ordinal","bandPosition":0,"scale":{"type":"band","domain":["UPDP Q1","UPDP Q2","UPDP Q3","UPDP Q4","gap1","MPFP Q1","MPFP Q2","MPFP Q3","MPFP Q4","gap2","TCDP Q1","TCDP Q2","TCDP Q3","TCDP Q4"],"paddingInner":0,"paddingOuter":0},"axis":null},"y":{"datum":1,"type":"quantitative","scale":{"domain":[0,3],"nice":false},"axis":null}}},
    {"mark":{"type":"tick","orient":"vertical","color":"black","size":6,"thickness":1},"encoding":{"x":{"field":"slot","type":"ordinal","bandPosition":1,"scale":{"type":"band","domain":["UPDP Q1","UPDP Q2","UPDP Q3","UPDP Q4","gap1","MPFP Q1","MPFP Q2","MPFP Q3","MPFP Q4","gap2","TCDP Q1","TCDP Q2","TCDP Q3","TCDP Q4"],"paddingInner":0,"paddingOuter":0},"axis":null},"y":{"datum":1,"type":"quantitative","scale":{"domain":[0,3],"nice":false},"axis":null}}},
    {"mark":{"type":"rule","color":"#a6a6a6","strokeWidth":1.2},"encoding":{"x":{"field":"slot","type":"ordinal","scale":{"type":"band","domain":["UPDP Q1","UPDP Q2","UPDP Q3","UPDP Q4","gap1","MPFP Q1","MPFP Q2","MPFP Q3","MPFP Q4","gap2","TCDP Q1","TCDP Q2","TCDP Q3","TCDP Q4"],"paddingInner":0,"paddingOuter":0},"axis":{"orient":"bottom","values":["UPDP Q3","MPFP Q3","TCDP Q3"],"bandPosition":0,"labelExpr":"slice(datum.value,0,4)","ticks":false,"domain":false,"grid":false,"labelAngle":0,"labelPadding":18,"labelFontSize":8.5,"labelFontWeight":"bold","labelColor":"black","title":"Dietary Patterns","titlePadding":2}},"y":{"field":"lo","type":"quantitative","scale":{"domain":[0,3],"nice":false},"axis":{"orient":"left","values":[0,0.1,0.2,0.3,0.4,0.5,0.6,0.7,0.8,0.9,1,1.1,1.2,1.3,1.4,1.5,1.6,1.7,1.8,1.9,2,2.1,2.2,2.3,2.4,2.5,2.6,2.7,2.8,2.9,3],"labels":false,"domain":false,"grid":false,"tickSize":3,"tickWidth":0.8,"offset":-3,"title":null}},"y2":{"field":"hi"}}},
    {"mark":{"type":"line","color":"black","strokeWidth":1.3},"encoding":{"x":{"field":"slot","type":"ordinal","scale":{"type":"band","domain":["UPDP Q1","UPDP Q2","UPDP Q3","UPDP Q4","gap1","MPFP Q1","MPFP Q2","MPFP Q3","MPFP Q4","gap2","TCDP Q1","TCDP Q2","TCDP Q3","TCDP Q4"],"paddingInner":0,"paddingOuter":0},"axis":null},"y":{"field":"or","type":"quantitative","scale":{"domain":[0,3],"nice":false},"axis":null},"detail":{"field":"pattern"}}},
    {"mark":{"type":"point","shape":"square","filled":true,"color":"black","size":22,"opacity":1},"encoding":{"x":{"field":"slot","type":"ordinal","scale":{"type":"band","domain":["UPDP Q1","UPDP Q2","UPDP Q3","UPDP Q4","gap1","MPFP Q1","MPFP Q2","MPFP Q3","MPFP Q4","gap2","TCDP Q1","TCDP Q2","TCDP Q3","TCDP Q4"],"paddingInner":0,"paddingOuter":0},"axis":{"orient":"bottom","labelExpr":"indexof(datum.value,'gap') >= 0 ? '' : slice(datum.value,-2)","ticks":false,"domain":false,"grid":false,"labelAngle":0,"labelPadding":5,"title":null}},"y":{"field":"or","type":"quantitative","scale":{"domain":[0,3],"nice":false},"axis":{"orient":"left","values":[0,0.1,0.2,0.3,0.4,0.5,0.6,0.7,0.8,0.9,1,1.1,1.2,1.3,1.4,1.5,1.6,1.7,1.8,1.9,2,2.1,2.2,2.3,2.4,2.5,2.6,2.7,2.8,2.9,3],"labelExpr":"abs(datum.value*2-round(datum.value*2))<0.001 ? format(datum.value,'.2f') : ''","grid":true,"gridColor":{"condition":{"test":"abs(datum.value*2-round(datum.value*2))<0.001","value":"#d9d9d9"},"value":"#f0f0f0"},"gridWidth":0.8,"domainWidth":1.5,"tickSize":3,"tickWidth":0.8,"labelPadding":3,"title":"OR(95%CI)","titlePadding":1}}}}
   ]}
 ]}
]}
]
}
